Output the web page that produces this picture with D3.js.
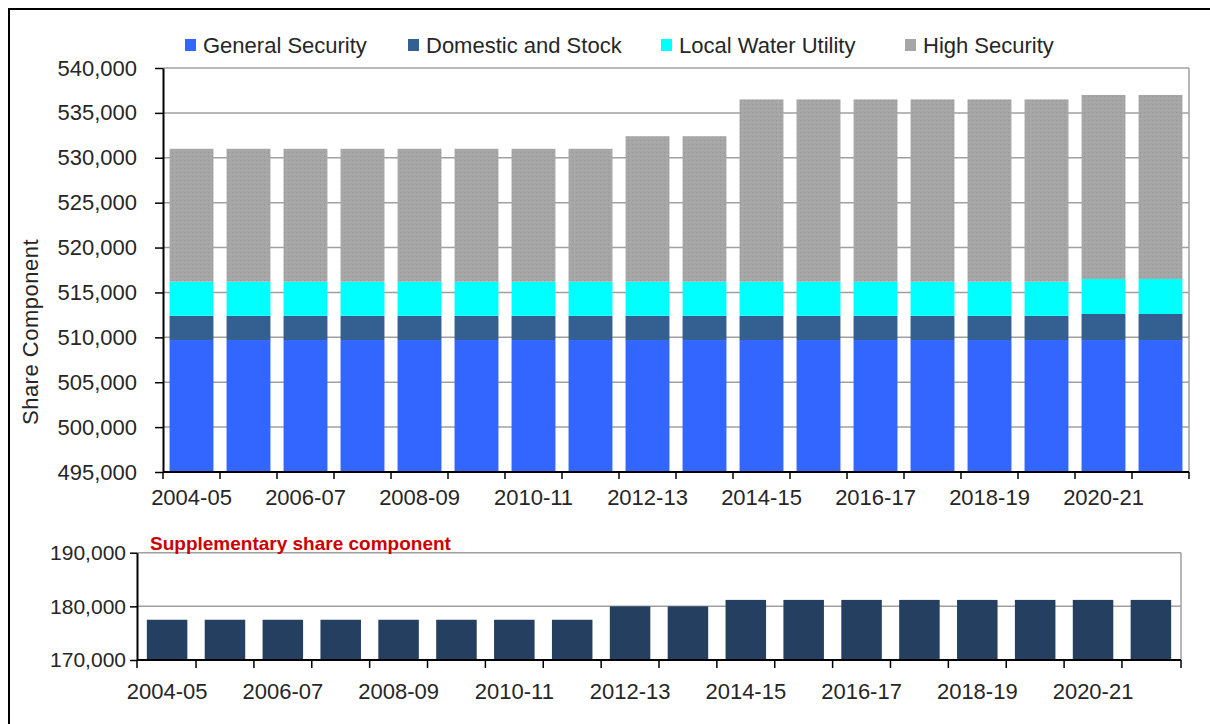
<!DOCTYPE html>
<html>
<head>
<meta charset="utf-8">
<script src="https://cdn.jsdelivr.net/npm/d3@7"></script>
<style>
  html, body { margin: 0; padding: 0; background: #fff; }
  svg { display: block; }
  text { font-family: "Liberation Sans", Arial, sans-serif; fill: #262626; }
</style>
</head>
<body>
<svg id="chart" width="1210" height="724"></svg>
<script>
// ---------- DATA ----------
const categories = ["2004-05","2005-06","2006-07","2007-08","2008-09","2009-10","2010-11","2011-12","2012-13","2013-14","2014-15","2015-16","2016-17","2017-18","2018-19","2019-20","2020-21","2021-22"];
const generalSecurity = [509700,509700,509700,509700,509700,509700,509700,509700,509700,509700,509700,509700,509700,509700,509700,509700,509700,509700];
const domesticStock   = [2700,2700,2700,2700,2700,2700,2700,2700,2700,2700,2700,2700,2700,2700,2700,2700,2900,2900];
const localWater      = [3800,3800,3800,3800,3800,3800,3800,3800,3800,3800,3800,3800,3800,3800,3800,3800,3900,3900];
const highSecurity    = [14800,14800,14800,14800,14800,14800,14800,14800,16200,16200,20300,20300,20300,20300,20300,20300,20500,20500];
const supplementary   = [177500,177500,177500,177500,177500,177500,177500,177500,180000,180000,181200,181200,181200,181200,181200,181200,181200,181200];
const seriesNames  = ["General Security","Domestic and Stock","Local Water Utility","High Security"];
const seriesColors = ["#3366ff","#335f91","#00ffff","url(#hsPattern)"];
const legendColors = ["#3366ff","#335f91","#00ffff","#a6a6a6"];
const topTicks = [495000,500000,505000,510000,515000,520000,525000,530000,535000,540000];
const bottomTicks = [170000,180000,190000];
const xLabelEvery = 2;

// ---------- SETUP ----------
const svg = d3.select("#chart");
const defs = svg.append("defs");
const pat = defs.append("pattern").attr("id","hsPattern").attr("patternUnits","userSpaceOnUse")
  .attr("width",4).attr("height",4);
pat.append("rect").attr("width",4).attr("height",4).attr("fill","#a6a6a6");
pat.append("rect").attr("x",0).attr("y",0).attr("width",1).attr("height",1).attr("fill","#979797");
pat.append("rect").attr("x",2).attr("y",2).attr("width",1).attr("height",1).attr("fill","#b0b0b0");

// outer frame
svg.append("line").attr("x1",9).attr("x2",9).attr("y1",8).attr("y2",724).attr("stroke","#000").attr("stroke-width",2);
svg.append("line").attr("x1",8).attr("x2",1210).attr("y1",9).attr("y2",9).attr("stroke","#000").attr("stroke-width",2);

const fmt = d3.format(",");

// ---------- TOP CHART ----------
const T = {left:163, right:1189, top:68, bottom:472};
const xTop = d3.scaleBand().domain(categories).range([T.left, T.right]).paddingInner(0.23).paddingOuter(0.115);
const yTop = d3.scaleLinear().domain([495000, 540000]).range([T.bottom, T.top]);

// gridlines
svg.append("g").selectAll("line").data(topTicks.filter(t => t > 495000)).join("line")
  .attr("x1",T.left).attr("x2",T.right)
  .attr("y1",d=>yTop(d)).attr("y2",d=>yTop(d))
  .attr("stroke","#a0a0a0").attr("stroke-width",1.5);
// right border
svg.append("line").attr("x1",T.right).attr("x2",T.right).attr("y1",T.top).attr("y2",T.bottom)
  .attr("stroke","#a0a0a0").attr("stroke-width",1.5);

// stacked bars
const rows = categories.map((c,i)=>({cat:c, gs:generalSecurity[i], ds:domesticStock[i], lw:localWater[i], hs:highSecurity[i]}));
const stack = d3.stack().keys(["gs","ds","lw","hs"])(rows);
const yMin = yTop.domain()[0];
stack.forEach((layer, li) => {
  svg.append("g").selectAll("rect").data(layer).join("rect")
    .attr("x", d => xTop(d.data.cat))
    .attr("width", xTop.bandwidth())
    .attr("y", d => yTop(d[1]))
    .attr("height", d => yTop(Math.max(d[0], yMin)) - yTop(d[1]))
    .attr("fill", seriesColors[li]);
});

// y axis
const yAxisTop = d3.axisLeft(yTop).tickValues(topTicks).tickFormat(fmt).tickSize(8).tickSizeOuter(0);
const gyt = svg.append("g").attr("transform",`translate(${T.left},0)`).call(yAxisTop);
gyt.select(".domain").attr("stroke","#000").attr("stroke-width",2);
gyt.selectAll(".tick line").attr("stroke","#000").attr("stroke-width",1.5);
gyt.selectAll(".tick text").attr("x",-26).style("font-size","22px").attr("fill","#262626").style("font-family","Liberation Sans, Arial, sans-serif");

// x axis (ticks at category boundaries)
const boundaries = categories.map(c => xTop(c) - xTop.step()*xTop.paddingInner()/2).concat([T.right]);
const gxt = svg.append("g");
gxt.append("line").attr("x1",T.left).attr("x2",T.right).attr("y1",T.bottom).attr("y2",T.bottom).attr("stroke","#000").attr("stroke-width",2);
gxt.selectAll("line.tk").data(boundaries).join("line").attr("class","tk")
  .attr("x1",d=>d).attr("x2",d=>d).attr("y1",T.bottom).attr("y2",T.bottom+7).attr("stroke","#000").attr("stroke-width",1.5);
gxt.selectAll("text").data(categories.filter((c,i)=>i%xLabelEvery===0)).join("text")
  .attr("x", d => xTop(d) + xTop.bandwidth()/2)
  .attr("y", T.bottom + 33)
  .attr("text-anchor","middle").style("font-size","22px").text(d=>d);

// y axis title
svg.append("text").attr("transform",`translate(38,${(T.top+T.bottom)/2+62}) rotate(-90)`)
  .attr("text-anchor","middle").style("font-size","22px").style("letter-spacing","0.5px").text("Share Component");

// legend
const legendX = [185, 408, 661, 905];
const lg = svg.append("g");
seriesNames.forEach((n,i) => {
  lg.append("rect").attr("x",legendX[i]).attr("y",39).attr("width",11).attr("height",12).attr("fill",legendColors[i]);
  lg.append("text").attr("x",legendX[i]+18).attr("y",53).style("font-size","22px").text(n);
});

// ---------- BOTTOM CHART ----------
const B = {left:137, right:1181, top:552.7, bottom:660};
const xBot = d3.scaleBand().domain(categories).range([B.left, B.right]).paddingInner(0.3).paddingOuter(0.17);
const yBot = d3.scaleLinear().domain([170000,190000]).range([B.bottom, B.top]);

svg.append("g").selectAll("line").data(bottomTicks.filter(t=>t>170000)).join("line")
  .attr("x1",B.left).attr("x2",B.right).attr("y1",d=>yBot(d)).attr("y2",d=>yBot(d))
  .attr("stroke","#a0a0a0").attr("stroke-width",1.5);
svg.append("line").attr("x1",B.right).attr("x2",B.right).attr("y1",B.top).attr("y2",B.bottom)
  .attr("stroke","#a0a0a0").attr("stroke-width",1.5);

svg.append("g").selectAll("rect").data(categories).join("rect")
  .attr("x", d => xBot(d)).attr("width", xBot.bandwidth())
  .attr("y", (d,i) => yBot(supplementary[i]))
  .attr("height", (d,i) => yBot(170000) - yBot(supplementary[i]))
  .attr("fill","#243f60");

const yAxisBot = d3.axisLeft(yBot).tickValues(bottomTicks).tickFormat(fmt).tickSize(7).tickSizeOuter(0);
const gyb = svg.append("g").attr("transform",`translate(${B.left},0)`).call(yAxisBot);
gyb.select(".domain").attr("stroke","#000").attr("stroke-width",2);
gyb.selectAll(".tick line").attr("stroke","#000").attr("stroke-width",1.5);
gyb.selectAll(".tick text").attr("x",-11).style("font-size","21px").attr("fill","#262626").style("font-family","Liberation Sans, Arial, sans-serif");

const boundB = categories.map(c => xBot(c) - xBot.step()*xBot.paddingInner()/2);
boundB[0] = B.left;
boundB.push(B.right);
const gxb = svg.append("g");
gxb.append("line").attr("x1",B.left).attr("x2",B.right).attr("y1",B.bottom).attr("y2",B.bottom).attr("stroke","#000").attr("stroke-width",2);
gxb.selectAll("line.tk").data(boundB).join("line").attr("class","tk")
  .attr("x1",d=>d).attr("x2",d=>d).attr("y1",B.bottom).attr("y2",B.bottom+8).attr("stroke","#000").attr("stroke-width",1.5);
gxb.selectAll("text").data(categories.filter((c,i)=>i%xLabelEvery===0)).join("text")
  .attr("x", d => xBot(d) + xBot.bandwidth()/2)
  .attr("y", B.bottom + 39)
  .attr("text-anchor","middle").style("font-size","22px").text(d=>d);

svg.append("text").attr("x",150).attr("y",550).style("font-size","19px").style("font-weight","bold")
  .style("fill","#cc0000").text("Supplementary share component");
</script>
</body>
</html>
